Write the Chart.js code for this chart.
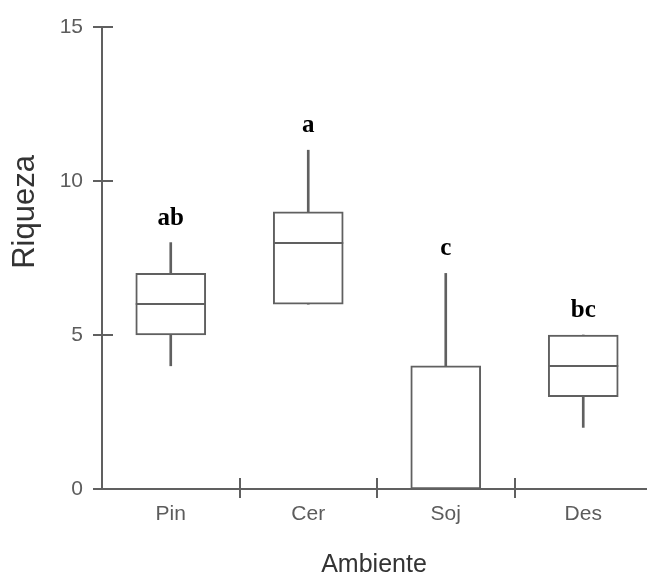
<!DOCTYPE html>
<html>
<head>
<meta charset="utf-8">
<script src="https://cdn.jsdelivr.net/npm/chart.js@4/dist/chart.umd.min.js"></script>
<style>
  html, body { margin: 0; padding: 0; overflow: hidden; background: #fff; }
</style>
</head>
<body>
<canvas id="boxChart" width="655" height="575"></canvas>
<script>
const categories = ['Pin', 'Cer', 'Soj', 'Des'];
const whiskerLow = [4, 6, 0, 2];
const q1 = [5, 6, 0, 3];
const medians = [6, 8, 0, 4];
const q3 = [7, 9, 4, 5];
const whiskerHigh = [8, 11, 7, 5];
const letters = ['ab', 'a', 'c', 'bc'];
const yTicks = [0, 5, 10, 15];

const lineColor = '#606060';
const tickColor = '#5c5c5c';

const boxExtras = {
  id: 'boxExtras',
  afterDatasetsDraw(chart) {
    const ctx = chart.ctx;
    const x = chart.scales.x;
    const y = chart.scales.y;
    const meta = chart.getDatasetMeta(0);
    ctx.save();
    ctx.strokeStyle = lineColor;
    ctx.lineWidth = 2;

    // medians
    meta.data.forEach((bar, i) => {
      const half = bar.width / 2;
      const py = Math.round(y.getPixelForValue(medians[i]));
      ctx.beginPath();
      ctx.moveTo(bar.x - half, py);
      ctx.lineTo(bar.x + half, py);
      ctx.stroke();
    });

    // y tick marks crossing the axis
    const ax = x.left;
    yTicks.forEach(v => {
      const py = Math.round(y.getPixelForValue(v));
      ctx.beginPath();
      ctx.moveTo(ax - 9, py);
      ctx.lineTo(ax + 11, py);
      ctx.stroke();
    });

    // x tick marks between categories
    const ay = y.bottom;
    for (let i = 0; i < categories.length - 1; i++) {
      const px = Math.round((x.getPixelForValue(i) + x.getPixelForValue(i + 1)) / 2);
      ctx.beginPath();
      ctx.moveTo(px, ay - 11);
      ctx.lineTo(px, ay + 9);
      ctx.stroke();
    }

    // significance letters
    ctx.fillStyle = '#000';
    ctx.font = 'bold 25px "Liberation Serif", "Times New Roman", serif';
    ctx.textAlign = 'center';
    ctx.textBaseline = 'bottom';
    letters.forEach((t, i) => {
      ctx.fillText(t, x.getPixelForValue(i), y.getPixelForValue(whiskerHigh[i]) - 12);
    });

    // axis titles
    ctx.fillStyle = '#333';
    ctx.font = '25px "Liberation Sans", Arial, sans-serif';
    ctx.textBaseline = 'middle';
    ctx.fillText('Ambiente', 374, 565);
    ctx.font = '31px "Liberation Sans", Arial, sans-serif';
    ctx.textBaseline = 'alphabetic';
    ctx.translate(34, 212);
    ctx.rotate(-Math.PI / 2);
    ctx.fillText('Riqueza', 0, 0);
    ctx.restore();
  }
};

new Chart(document.getElementById('boxChart').getContext('2d'), {
  type: 'bar',
  data: {
    labels: categories,
    datasets: [
      {
        label: 'Caixa',
        data: categories.map((_, i) => [q1[i], q3[i]]),
        backgroundColor: '#ffffff',
        borderColor: lineColor,
        borderWidth: 2,
        borderSkipped: false,
        barThickness: 70,
        grouped: false,
        order: 1
      },
      {
        label: 'Bigodes',
        data: categories.map((_, i) => [whiskerLow[i], whiskerHigh[i]]),
        backgroundColor: lineColor,
        borderWidth: 0,
        barThickness: 2,
        grouped: false,
        order: 2
      }
    ]
  },
  options: {
    responsive: false,
    animation: false,
    layout: { padding: { top: 27, right: 3, left: 0, bottom: 0 } },
    scales: {
      x: {
        offset: true,
        grid: { display: false },
        border: { display: true, color: lineColor, width: 2 },
        ticks: {
          color: tickColor,
          padding: 5,
          font: { family: '"Liberation Sans", Arial, sans-serif', size: 21 }
        },
        afterFit: s => { s.height = 86; }
      },
      y: {
        min: 0,
        max: 15,
        grid: { display: false },
        border: { display: true, color: lineColor, width: 2 },
        afterBuildTicks: s => { s.ticks = yTicks.map(v => ({ value: v })); },
        ticks: {
          color: tickColor,
          padding: 11,
          font: { family: '"Liberation Sans", Arial, sans-serif', size: 21 }
        },
        afterFit: s => { s.width = 102; }
      }
    },
    plugins: {
      legend: { display: false },
      tooltip: { enabled: false }
    }
  },
  plugins: [boxExtras]
});
</script>
</body>
</html>
